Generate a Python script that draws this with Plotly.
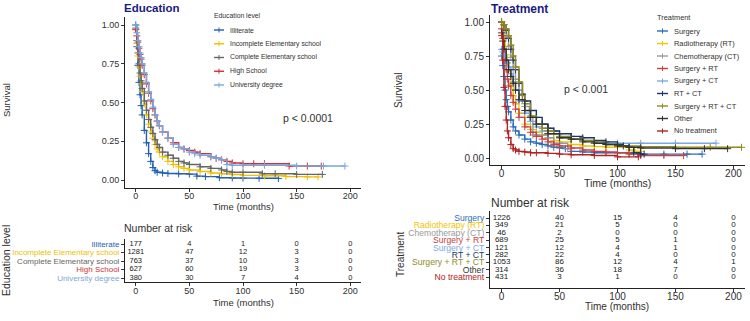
import plotly.graph_objects as go

# ---------------- DATA ----------------
edu_names = ["Illiterate", "Incomplete Elementary school", "Complete Elementary school",
             "High School", "University degree"]
edu_colors = ["#1f5fb4", "#efc000", "#666666", "#d0303a", "#7aa6dc"]

illit_t = [0, 1, 2, 3, 4, 5, 6, 8, 10, 12, 14, 16, 18, 20, 25, 30, 40, 50, 57, 65, 78, 90, 100, 115, 133]
illit_s = [1.0, 0.86, 0.74, 0.63, 0.55, 0.48, 0.42, 0.32, 0.24, 0.17, 0.12, 0.08, 0.06, 0.05, 0.045, 0.042,
           0.04, 0.038, 0.025, 0.022, 0.015, 0.013, 0.012, 0.011, 0.01]
incomp_t = [0, 1, 2, 3, 4, 5, 6, 8, 10, 12, 14, 16, 18, 20, 22, 25, 30, 35, 40, 45, 50, 60, 70, 80, 90, 100,
            120, 140, 160, 170]
incomp_s = [0.97, 0.88, 0.8, 0.73, 0.67, 0.62, 0.57, 0.49, 0.42, 0.36, 0.31, 0.27, 0.23, 0.2, 0.18, 0.15, 0.12,
            0.1, 0.085, 0.075, 0.065, 0.055, 0.045, 0.04, 0.035, 0.03, 0.027, 0.022, 0.02, 0.02]
comp_t = [0, 1, 2, 3, 4, 5, 6, 8, 10, 12, 14, 16, 18, 20, 22, 25, 30, 35, 40, 45, 50, 60, 70, 80, 85, 90, 100,
          118, 130, 150, 174]
comp_s = [0.98, 0.9, 0.82, 0.75, 0.69, 0.64, 0.59, 0.51, 0.45, 0.39, 0.34, 0.3, 0.26, 0.23, 0.21, 0.18, 0.16,
          0.14, 0.12, 0.11, 0.1, 0.085, 0.075, 0.065, 0.055, 0.05, 0.05, 0.04, 0.04, 0.036, 0.036]
high_t = [0, 1, 2, 3, 4, 5, 6, 8, 10, 12, 14, 16, 18, 20, 22, 25, 30, 35, 40, 45, 50, 55, 60, 70, 75, 80, 85,
          90, 100, 110, 120, 143, 160, 173]
high_s = [0.97, 0.93, 0.89, 0.85, 0.81, 0.78, 0.74, 0.68, 0.62, 0.56, 0.51, 0.46, 0.42, 0.38, 0.35, 0.31, 0.27,
          0.24, 0.21, 0.2, 0.19, 0.18, 0.17, 0.15, 0.14, 0.13, 0.12, 0.11, 0.105, 0.105, 0.105, 0.09, 0.09, 0.09]
univ_t = [0, 1, 2, 3, 4, 5, 6, 8, 10, 12, 14, 16, 18, 20, 22, 25, 30, 35, 40, 45, 50, 55, 60, 70, 75, 80, 85,
          90, 100, 120, 150, 175, 195]
univ_s = [1.0, 0.95, 0.9, 0.86, 0.82, 0.79, 0.75, 0.69, 0.63, 0.57, 0.52, 0.47, 0.42, 0.38, 0.35, 0.31, 0.27,
          0.23, 0.21, 0.2, 0.18, 0.17, 0.16, 0.15, 0.14, 0.13, 0.1, 0.095, 0.095, 0.095, 0.09, 0.09, 0.09]

trt_names = ["Surgery", "Radiotherapy (RT)", "Chemotherapy (CT)", "Surgery + RT", "Surgery + CT",
             "RT + CT", "Surgery + RT + CT", "Other", "No treatment"]
trt_colors = ["#2a6ebb", "#efc500", "#999999", "#c94040", "#79a9e6", "#1c3666", "#8f8a1f", "#333333", "#b22222"]

surg_t = [0, 1, 2, 3, 4, 5, 6, 8, 10, 12, 15, 20, 25, 30, 35, 40, 45, 50, 55, 60, 70, 80, 90, 100, 110, 120,
          140, 160, 173]
surg_s = [0.75, 0.68, 0.6, 0.5, 0.43, 0.38, 0.34, 0.28, 0.23, 0.2, 0.17, 0.14, 0.12, 0.11, 0.1, 0.09, 0.08,
          0.075, 0.07, 0.05, 0.045, 0.04, 0.04, 0.04, 0.035, 0.03, 0.03, 0.03, 0.03]
rt_t = [0, 1, 2, 3, 4, 5, 6, 8, 10, 12, 15, 20, 25, 30, 35, 40, 45, 50, 60, 70, 80, 90, 100, 110, 115, 120]
rt_s = [1.0, 0.95, 0.88, 0.82, 0.76, 0.7, 0.64, 0.54, 0.46, 0.4, 0.33, 0.25, 0.21, 0.19, 0.17, 0.15, 0.13,
        0.12, 0.1, 0.09, 0.085, 0.08, 0.08, 0.06, 0.05, 0.05]
ct_t = [0, 2, 4, 6, 8, 10, 12, 15, 18, 20, 24, 27, 30, 40, 45, 50, 57, 60]
ct_s = [1.0, 0.95, 0.89, 0.82, 0.74, 0.65, 0.58, 0.5, 0.43, 0.38, 0.3, 0.17, 0.17, 0.15, 0.11, 0.11, 0.07, 0.07]
srt_t = [0, 1, 2, 3, 4, 5, 6, 8, 10, 12, 15, 20, 25, 30, 35, 40, 45, 50, 60, 70, 80, 90, 100, 110, 120, 140, 157]
srt_s = [0.95, 0.88, 0.8, 0.72, 0.65, 0.58, 0.53, 0.46, 0.41, 0.36, 0.3, 0.23, 0.19, 0.16, 0.14, 0.12, 0.1,
         0.09, 0.075, 0.06, 0.05, 0.045, 0.04, 0.03, 0.02, 0.02, 0.02]
sct_t = [0, 1, 2, 3, 4, 5, 6, 8, 10, 12, 15, 20, 25, 30, 35, 40, 50, 60, 70, 80, 90, 100, 120, 150, 185]
sct_s = [0.8, 0.78, 0.76, 0.74, 0.72, 0.7, 0.67, 0.62, 0.56, 0.5, 0.42, 0.33, 0.27, 0.23, 0.2, 0.18, 0.15,
         0.14, 0.13, 0.12, 0.11, 0.11, 0.11, 0.11, 0.11]
rtct_t = [0, 2, 4, 6, 8, 10, 12, 15, 18, 20, 25, 30, 35, 40, 45, 50, 60, 70, 80, 90, 100, 105, 110, 114, 120, 123]
rtct_s = [1.0, 0.98, 0.94, 0.88, 0.8, 0.72, 0.65, 0.55, 0.47, 0.42, 0.35, 0.3, 0.25, 0.22, 0.2, 0.18, 0.16,
          0.15, 0.13, 0.12, 0.1, 0.09, 0.08, 0.04, 0.03, 0.03]
srtct_t = [0, 2, 4, 6, 8, 10, 12, 15, 18, 20, 25, 30, 35, 40, 45, 50, 60, 70, 80, 90, 100, 120, 150, 180, 207]
srtct_s = [1.0, 0.98, 0.95, 0.9, 0.83, 0.75, 0.67, 0.56, 0.46, 0.4, 0.31, 0.25, 0.22, 0.2, 0.18, 0.16, 0.14,
           0.13, 0.12, 0.1, 0.09, 0.085, 0.08, 0.08, 0.08]
other_t = [0, 1, 2, 4, 6, 8, 10, 12, 15, 20, 25, 30, 40, 50, 60, 70, 80, 90, 100, 110, 120, 150, 175, 195]
other_s = [0.92, 0.86, 0.8, 0.72, 0.65, 0.6, 0.55, 0.5, 0.43, 0.35, 0.3, 0.25, 0.18, 0.15, 0.14, 0.12, 0.11,
           0.1, 0.09, 0.08, 0.075, 0.07, 0.07, 0.07]
notr_t = [0, 1, 2, 3, 4, 5, 6, 8, 10, 12, 15, 20, 25, 30, 40, 50, 60, 80, 100, 118]
notr_s = [0.9, 0.72, 0.52, 0.38, 0.28, 0.2, 0.15, 0.1, 0.07, 0.06, 0.05, 0.045, 0.04, 0.04, 0.035, 0.03,
          0.025, 0.02, 0.01, 0.01]

risk_times = [0, 50, 100, 150, 200]
edu_risk = [[177, 4, 1, 0, 0], [1281, 47, 12, 3, 0], [763, 37, 10, 3, 0], [627, 60, 19, 3, 0], [380, 30, 7, 4, 0]]
trt_risk = [[1226, 40, 15, 4, 0], [349, 21, 5, 0, 0], [46, 2, 0, 0, 0], [689, 25, 5, 1, 0], [121, 12, 4, 1, 0],
            [282, 22, 4, 0, 0], [1053, 86, 12, 4, 1], [314, 36, 18, 7, 0], [431, 3, 1, 0, 0]]

surv_ticks = [0, 0.25, 0.5, 0.75, 1.0]
surv_ticklabels = ["0.00", "0.25", "0.50", "0.75", "1.00"]
time_ticks = [0, 50, 100, 150, 200]

edu_curves = [(illit_t, illit_s), (incomp_t, incomp_s), (comp_t, comp_s), (high_t, high_s), (univ_t, univ_s)]
trt_curves = [(surg_t, surg_s), (rt_t, rt_s), (ct_t, ct_s), (srt_t, srt_s), (sct_t, sct_s),
              (rtct_t, rtct_s), (srtct_t, srtct_s), (other_t, other_s), (notr_t, notr_s)]

# ---------------- FIGURE ----------------
W, H = 750, 321
def px(x): return x / W
def py(y): return 1 - y / H

FONT = "Liberation Sans, Arial, sans-serif"
TXT = "#303030"

fig = go.Figure()

for (t, s), name, col in zip(edu_curves, edu_names, edu_colors):
    fig.add_trace(go.Scatter(x=t, y=s, mode="lines+markers", line=dict(color=col, width=1.4, shape="hv"),
                             marker=dict(symbol="cross-thin-open", size=5, line=dict(color=col, width=1)),
                             name=name, xaxis="x", yaxis="y", showlegend=False))
for (t, s), name, col in zip(trt_curves, trt_names, trt_colors):
    fig.add_trace(go.Scatter(x=t, y=s, mode="lines+markers", line=dict(color=col, width=1.4, shape="hv"),
                             marker=dict(symbol="cross-thin-open", size=5, line=dict(color=col, width=1)),
                             name=name, xaxis="x2", yaxis="y2", showlegend=False))

for i, row in enumerate(edu_risk):
    fig.add_trace(go.Scatter(x=risk_times, y=[i + 1] * 5, mode="text", text=[str(v) for v in row],
                             textfont=dict(size=7.5, color="#202020", family=FONT),
                             xaxis="x3", yaxis="y3", showlegend=False, hoverinfo="skip"))
for i, row in enumerate(trt_risk):
    fig.add_trace(go.Scatter(x=risk_times, y=[i + 1] * 5, mode="text", text=[str(v) for v in row],
                             textfont=dict(size=8, color="#202020", family=FONT),
                             xaxis="x4", yaxis="y4", showlegend=False, hoverinfo="skip"))

def axis(size, standoff=0, **kw):
    d = dict(showline=True, linecolor="#222", linewidth=1, ticks="outside", ticklen=3,
             tickcolor="#333", showgrid=False, zeroline=False, ticklabelstandoff=standoff,
             tickfont=dict(size=size, color=TXT, family=FONT))
    d.update(kw)
    return d

L_dom = [px(125), px(361)]
R_dom = [px(490), px(745)]

fig.update_layout(
    xaxis=axis(9, -4, domain=L_dom, anchor="y", range=[-10, 210], tickvals=time_ticks),
    yaxis=axis(9, 0, domain=[py(187.75), py(17.25)], anchor="x", range=[-0.05, 1.05], tickvals=surv_ticks,
               ticktext=surv_ticklabels),
    xaxis2=axis(10, -4, domain=R_dom, anchor="y2", range=[-10, 210], tickvals=time_ticks),
    yaxis2=axis(10, 0, domain=[py(165), py(15.2)], anchor="x2", range=[-0.05, 1.05], tickvals=surv_ticks,
                ticktext=surv_ticklabels),
    xaxis3=axis(9, -3, domain=L_dom, anchor="y3", range=[-10, 210], tickvals=time_ticks),
    yaxis3=axis(8, 0, domain=[py(282), py(239)], anchor="x3", range=[5.47, 0.41], tickvals=[1, 2, 3, 4, 5],
                ticktext=[f"<span style='color:{c}'>{n}</span>" for n, c in zip(edu_names, edu_colors)]),
    xaxis4=axis(10, -4, domain=R_dom, anchor="y4", range=[-10, 210], tickvals=time_ticks),
    yaxis4=axis(8.6, 0, domain=[py(288), py(211)], anchor="x4", range=[10.49, 0.05], tickvals=list(range(1, 10)),
                ticktext=[f"<span style='color:{c}'>{n}</span>" for n, c in zip(trt_names, trt_colors)]),
)

ann = []
def text(x, y, s, size, color=TXT, xanchor="center", angle=0, bold=False, yanchor="middle"):
    ann.append(dict(x=px(x), y=py(y), xref="paper", yref="paper", text=f"<b>{s}</b>" if bold else s,
                    showarrow=False, xanchor=xanchor, yanchor=yanchor, textangle=angle,
                    font=dict(size=size, color=color, family=FONT)))

# titles
text(122, 0, "Education", 11.5, color="#1b1b7e", xanchor="left", bold=True, yanchor="top")
text(489, 0, "Treatment", 12, color="#1b1b7e", xanchor="left", bold=True, yanchor="top")
# axis titles
text(6, 100, "Survival", 9.5, angle=-90)
text(398, 90, "Survival", 10, angle=-90)
text(243, 206, "Time (months)", 9.5)
text(617, 183, "Time (months)", 10.5)
text(243, 302, "Time (months)", 9.5)
text(617, 306, "Time (months)", 10)
text(6, 261, "Education level", 10.5, angle=-90)
text(400, 255, "Treatment", 10, angle=-90)
text(122, 228, "Number at risk", 10.5, xanchor="left")
text(489, 203, "Number at risk", 12, xanchor="left")
# p values
text(308, 118, "p < 0.0001", 10.5)
text(586, 89, "p < 0.001", 10.5)

# manual legends
shapes = []
def legend(x_title, y_title, title, names, colors, x0, x1, xt, y0, dy, size):
    text(x_title, y_title, title, size, xanchor="left")
    for i, (n, c) in enumerate(zip(names, colors)):
        yy = y0 + i * dy
        shapes.append(dict(type="line", xref="paper", yref="paper", x0=px(x0), x1=px(x1), y0=py(yy), y1=py(yy),
                           line=dict(color=c, width=1.4)))
        xm = (x0 + x1) / 2
        shapes.append(dict(type="line", xref="paper", yref="paper", x0=px(xm), x1=px(xm), y0=py(yy - 2.5),
                           y1=py(yy + 2.5), line=dict(color=c, width=1)))
        text(xt, yy, n, size, xanchor="left")

legend(212, 15, "Education level", edu_names, edu_colors, 214, 224, 228, 30, 13.75, 6.8)
legend(655, 17, "Treatment", trt_names, trt_colors, 657, 668, 672, 31, 12.5, 7.4)

fig.update_layout(annotations=ann, shapes=shapes, width=W, height=H,
                  margin=dict(l=0, r=0, t=0, b=0), plot_bgcolor="white", paper_bgcolor="white",
                  font=dict(family=FONT, color=TXT), showlegend=False, hovermode=False)

fig.write_html("out.html", config={"displayModeBar": False, "staticPlot": True},
               post_script="document.body.style.margin='0';document.body.style.overflow='hidden';")
